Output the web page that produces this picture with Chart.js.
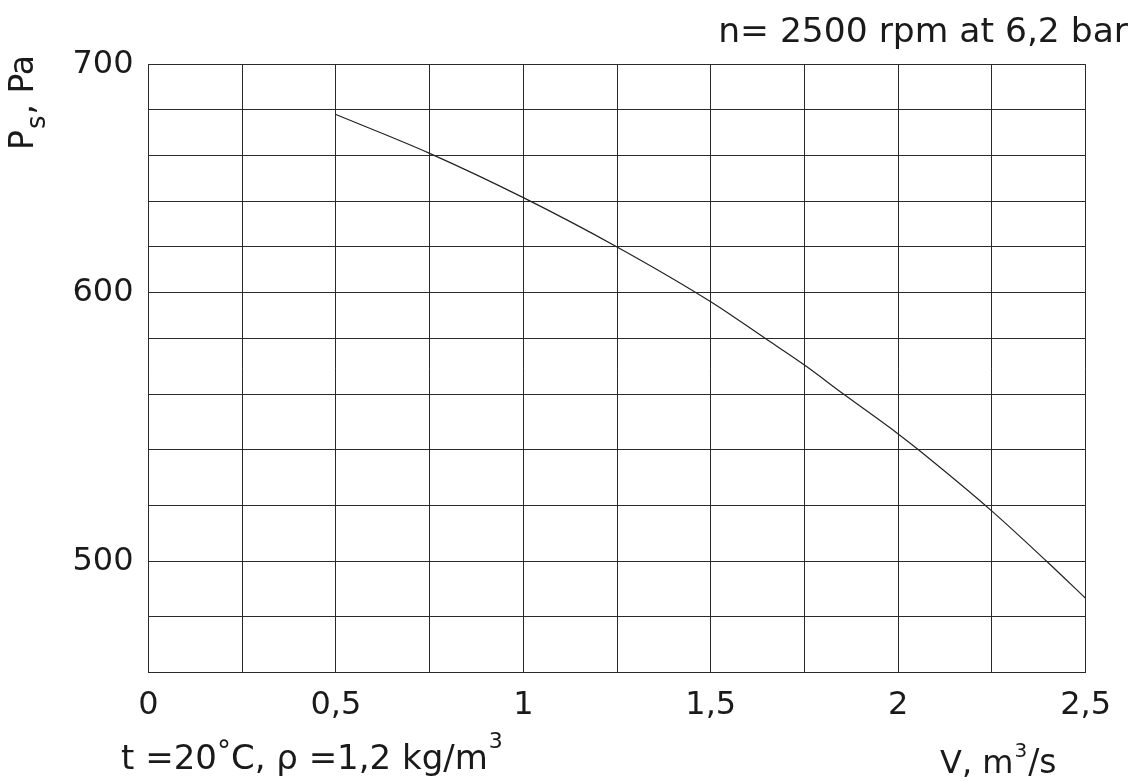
<!DOCTYPE html>
<html>
<head>
<meta charset="utf-8">
<script src="https://cdn.jsdelivr.net/npm/chart.js@4.4.1/dist/chart.umd.min.js"></script>
<style>
  html, body { margin: 0; padding: 0; background: #ffffff; }
  #wrap { width: 1138px; height: 781px; position: relative; }
</style>
</head>
<body>
<div id="wrap"><canvas id="c"></canvas></div>
<script>
// ---- data ----
const flowRate       = [0.5, 0.75, 1.0, 1.25, 1.5, 1.645, 1.75, 1.854, 2.0, 2.054, 2.25, 2.396, 2.5];
const staticPressure = [678, 661, 641.6, 620, 596, 580, 570.4, 560, 545.7, 540, 518, 500, 486.7];

const xLabelValues = [0, 0.5, 1, 1.5, 2, 2.5];
const xTickLabels  = ['0', '0,5', '1', '1,5', '2', '2,5'];
const yLabelValues = [500, 600, 700];
const yTickLabels  = ['500', '600', '700'];

// the pressure axis of the original is not uniform: steps below 580 Pa are drawn taller
const yBreaks      = [460, 580, 700];
const yBreakShares = [0, 0.5496, 1];

const topNote    = 'n= 2500 rpm at 6,2 bar';
const leftNoteParts  = ['t =20', '°', 'C, ρ =1,2 kg/m', '3'];
const xTitleParts    = ['V, m', '3', '/s'];
const yTitleParts    = ['P', 's', ', Pa'];

// ---- piecewise linear scale ----
class PiecewiseLinearScale extends Chart.LinearScale {
  toDecimal(v) {
    for (let i = 1; i < yBreaks.length; i++) {
      if (v <= yBreaks[i] || i === yBreaks.length - 1) {
        return yBreakShares[i - 1] + (v - yBreaks[i - 1]) / (yBreaks[i] - yBreaks[i - 1]) * (yBreakShares[i] - yBreakShares[i - 1]);
      }
    }
    return 0;
  }
  fromDecimal(d) {
    for (let i = 1; i < yBreakShares.length; i++) {
      if (d <= yBreakShares[i] || i === yBreakShares.length - 1) {
        return yBreaks[i - 1] + (d - yBreakShares[i - 1]) / (yBreakShares[i] - yBreakShares[i - 1]) * (yBreaks[i] - yBreaks[i - 1]);
      }
    }
    return yBreaks[0];
  }
  getPixelForValue(value) {
    if (value === null || value === undefined || isNaN(value)) return NaN;
    return this.getPixelForDecimal(this.toDecimal(value));
  }
  getValueForPixel(pixel) {
    return this.fromDecimal(this.getDecimalForPixel(pixel));
  }
}
PiecewiseLinearScale.id = 'piecewise';
PiecewiseLinearScale.defaults = Chart.LinearScale.defaults;
Chart.register(PiecewiseLinearScale);

const FONT = '"DejaVu Sans", Verdana, sans-serif';
const INK = '#1a1a1a';

// draw a run of text pieces: [text, fontSize, dy]
function drawRun(ctx, x, y, pieces) {
  let cx = x;
  pieces.forEach(p => {
    ctx.font = p[1] + 'px ' + FONT;
    ctx.fillText(p[0], cx, y + p[2]);
    cx += ctx.measureText(p[0]).width + (p[3] || 0);
  });
}

const notes = {
  id: 'notes',
  afterDraw(chart) {
    const ctx = chart.ctx;
    ctx.save();
    ctx.fillStyle = INK;
    ctx.textBaseline = 'alphabetic';

    // top right note
    ctx.font = '34.5px ' + FONT;
    ctx.textAlign = 'right';
    ctx.fillText(topNote, 1128, 42);

    ctx.textAlign = 'left';
    // bottom left note
    drawRun(ctx, 121, 769, [
      [leftNoteParts[0], 34, 0],
      [leftNoteParts[1], 28, -9],
      [leftNoteParts[2], 34, 0, 1],
      [leftNoteParts[3], 22, -21]
    ]);

    // x title
    drawRun(ctx, 940, 773, [
      [xTitleParts[0], 32, 0, 1],
      [xTitleParts[1], 20, -16, 1],
      [xTitleParts[2], 33, 0]
    ]);

    // y title (rotated, with subscript)
    ctx.translate(33, 150);
    ctx.rotate(-Math.PI / 2);
    drawRun(ctx, 0, 0, [
      [yTitleParts[0], 33, 0, 1],
      [yTitleParts[1], 26, 12, 1],
      [yTitleParts[2], 33, 0]
    ]);
    ctx.restore();
  }
};

new Chart(document.getElementById('c'), {
  type: 'scatter',
  data: {
    datasets: [{
      data: flowRate.map((x, i) => ({ x: x, y: staticPressure[i] })),
      showLine: true,
      borderColor: '#222222',
      borderWidth: 1.2,
      pointRadius: 0,
      tension: 0.4,
      cubicInterpolationMode: 'monotone',
      fill: false
    }]
  },
  options: {
    responsive: true,
    maintainAspectRatio: false,
    animation: false,
    events: [],
    layout: { padding: { top: 64.3, right: 52.4, left: 0, bottom: 0 } },
    plugins: { legend: { display: false }, tooltip: { enabled: false }, title: { display: false } },
    scales: {
      x: {
        type: 'linear',
        min: 0, max: 2.5,
        afterFit(scale) { scale.height = 108.3; },
        ticks: {
          stepSize: 0.25,
          autoSkip: false,
          maxRotation: 0,
          padding: 14,
          color: INK,
          font: { family: FONT, size: 32 },
          callback(value) {
            const i = xLabelValues.findIndex(v => Math.abs(v - value) < 1e-6);
            return i >= 0 ? xTickLabels[i] : '';
          }
        },
        grid: { color: '#2a2a2a', lineWidth: 1, drawTicks: false },
        border: { color: '#2a2a2a', width: 1 }
      },
      y: {
        type: 'piecewise',
        min: 460, max: 700,
        afterFit(scale) { scale.width = 148.5; },
        ticks: {
          stepSize: 20,
          autoSkip: false,
          padding: 15,
          color: INK,
          font: { family: FONT, size: 32 },
          callback(value) {
            const i = yLabelValues.findIndex(v => Math.abs(v - value) < 1e-6);
            return i >= 0 ? yTickLabels[i] : '';
          }
        },
        grid: { color: '#2a2a2a', lineWidth: 1, drawTicks: false },
        border: { color: '#2a2a2a', width: 1 }
      }
    }
  },
  plugins: [notes]
});
</script>
</body>
</html>
